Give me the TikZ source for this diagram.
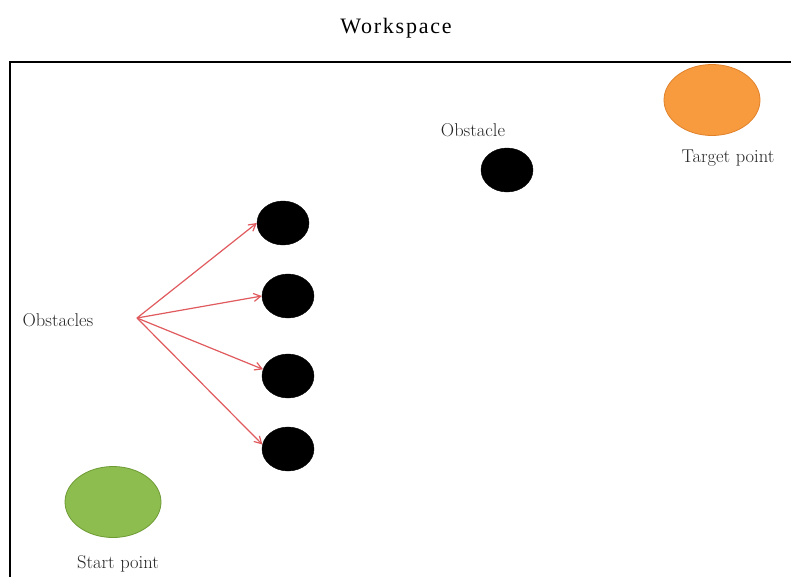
\documentclass[tikz,border=0pt]{standalone}
\usepackage{fontspec}
\usetikzlibrary{shapes.geometric,arrows.meta}
\newfontfamily\titlefont[LetterSpace=8]{Liberation Serif}
\definecolor{startgreen}{HTML}{8DBD4F}
\definecolor{startedge}{HTML}{6E9A35}
\definecolor{targetorange}{HTML}{F89B3F}
\definecolor{targetedge}{HTML}{E0812A}
\definecolor{arrowred}{HTML}{E05A5E}
\tikzset{
  obst/.style={ellipse, fill=black, draw=black, minimum width=52pt, minimum height=44pt, inner sep=0pt},
  goal/.style={ellipse, minimum width=96pt, minimum height=71pt, inner sep=0pt, line width=0.8pt},
  lbl/.style={font=\fontsize{18.5}{22}\selectfont, inner sep=0pt, text=black!85},
  pointer/.style={draw=arrowred, line width=1.2pt, -{Straight Barb[length=7pt,width=8pt]}},
}
\begin{document}
\begin{tikzpicture}[x=1pt,y=-1pt]
\useasboundingbox (0,0) rectangle (791,576);
\fill[white] (0,0) rectangle (791,576);
\node[font=\titlefont\fontsize{22}{26}\selectfont, inner sep=0pt] (title) at (396,28) {Workspace};
\draw[line width=1.8pt] (10,580) -- (10,62) -- (795,62);
% obstacles
\node[obst] (ob0) at (507,170) {};
\node[obst] (ob1) at (283,223) {};
\node[obst] (ob2) at (288,296) {};
\node[obst] (ob3) at (288,376) {};
\node[obst] (ob4) at (288,449) {};
% start / target
\node[goal, fill=startgreen, draw=startedge] (start) at (113,502) {};
\node[goal, fill=targetorange, draw=targetedge] (target) at (712,100) {};
% labels
\node[lbl] (lobs) at (58,320) {Obstacles};
\node[lbl] (lob0) at (473,130) {Obstacle};
\node[lbl] (ltarget) at (728,158) {Target point};
\node[lbl] (lstart) at (118,564) {Start point};
% arrows
\coordinate (src) at (137,318);
\draw[pointer] (src) -- (ob1.west);
\draw[pointer] (src) -- (ob2.west);
\draw[pointer] (src) -- (ob3.165);
\draw[pointer] (src) -- (ob4.170);
\end{tikzpicture}
\end{document}
